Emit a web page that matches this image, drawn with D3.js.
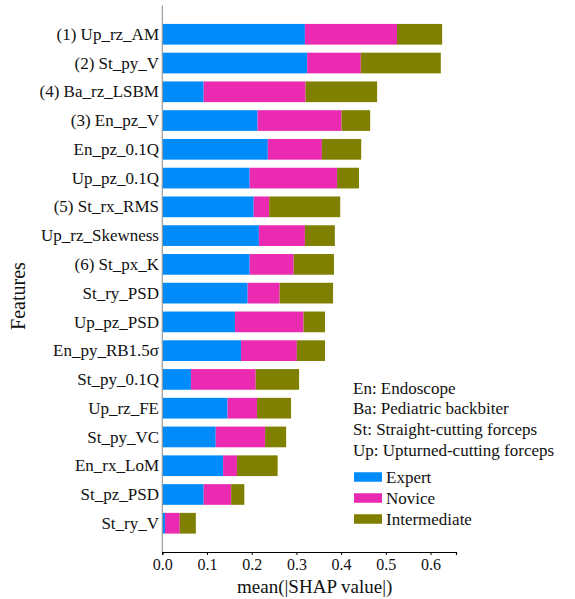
<!DOCTYPE html>
<html><head><meta charset="utf-8">
<script src="https://cdn.jsdelivr.net/npm/d3@7"></script>
<style>body{margin:0;background:#fff}svg{display:block}</style>
</head><body>
<script>
const features = ["(1) Up_rz_AM","(2) St_py_V","(4) Ba_rz_LSBM","(3) En_pz_V","En_pz_0.1Q","Up_pz_0.1Q","(5) St_rx_RMS","Up_rz_Skewness","(6) St_px_K","St_ry_PSD","Up_pz_PSD","En_py_RB1.5σ","St_py_0.1Q","Up_rz_FE","St_py_VC","En_rx_LoM","St_pz_PSD","St_ry_V"];
const expert = [0.319,0.324,0.0925,0.213,0.236,0.1955,0.2045,0.216,0.1955,0.191,0.1625,0.176,0.064,0.146,0.1195,0.136,0.0925,0.006];
const novice = [0.206,0.120,0.228,0.188,0.121,0.1955,0.0345,0.103,0.0985,0.0715,0.1535,0.125,0.145,0.066,0.1105,0.031,0.0615,0.033];
const intermediate = [0.101,0.179,0.160,0.064,0.088,0.049,0.159,0.067,0.090,0.1195,0.048,0.063,0.097,0.076,0.047,0.091,0.0295,0.036];
const seriesNames = ["Expert","Novice","Intermediate"];
const colors = ["#008bfb","#ea2bb2","#808000"];
const xTicks = [0,0.1,0.2,0.3,0.4,0.5,0.6];
const notes = ["En: Endoscope","Ba: Pediatric backbiter","St: Straight-cutting forceps","Up: Upturned-cutting forceps"];

const W=575,H=599;
const font = "'Liberation Serif', 'DejaVu Serif', 'Noto Serif', Tinos, Times, serif";
const svg = d3.select("body").append("svg").attr("width",W).attr("height",H).style("font-family",font);

const x = d3.scaleLinear().domain([0,0.657]).range([162.3,456]);
const y = d3.scaleLinear().domain([-1,features.length]).range([5.5,552]);
const bh = 20.7;

const rows = features.map((f,i)=>({f,i,vals:[expert[i],novice[i],intermediate[i]]}));
const stackData = rows.map(r=>{const o={f:r.f,i:r.i}; seriesNames.forEach((s,k)=>o[s]=r.vals[k]); return o;});
const stacked = d3.stack().keys(seriesNames)(stackData);

svg.append("g").selectAll("g").data(stacked).join("g")
  .attr("fill",(d,k)=>colors[k])
  .selectAll("rect").data(d=>d).join("rect")
  .attr("x",d=>x(d[0])).attr("width",d=>x(d[1])-x(d[0]))
  .attr("y",d=>y(d.data.i)-bh/2).attr("height",bh);

// left spine
svg.append("line").attr("x1",x(0)).attr("x2",x(0)).attr("y1",y(-1)).attr("y2",y(features.length))
  .attr("stroke","#999").attr("stroke-width",1.2);

// y labels
svg.append("g").selectAll("text").data(features).join("text")
  .attr("x",159).attr("y",(d,i)=>y(i)).attr("dy","0.33em").style("font-family",font)
  .attr("text-anchor","end").attr("font-size",17).attr("fill","#111").text(d=>d);

// x axis
const xa = svg.append("g").attr("transform",`translate(0,${y(features.length)})`)
  .call(d3.axisBottom(x).tickValues(xTicks).tickFormat(d3.format(".1f")).tickSize(3).tickPadding(4));
xa.select(".domain").attr("stroke","#000").attr("stroke-width",1.2);
xa.selectAll(".tick line").attr("stroke","#000");
xa.selectAll("text").attr("font-size",16).style("font-family",font).attr("fill","#111");

svg.append("text").attr("x",314.7).attr("y",593).attr("text-anchor","middle").style("font-family",font)
  .attr("font-size",19).attr("fill","#111").text("mean(|SHAP value|)");
svg.append("text").attr("transform","translate(25,296) rotate(-90)").attr("text-anchor","middle").style("font-family",font)
  .attr("font-size",20).attr("fill","#111").text("Features");

// notes
svg.append("g").selectAll("text").data(notes).join("text")
  .attr("x",353).attr("y",(d,i)=>388+i*20.7).attr("dy","0.33em").style("font-family",font)
  .attr("font-size",17).attr("fill","#111").text(d=>d);

// legend
const lg = svg.append("g").selectAll("g").data(seriesNames).join("g")
  .attr("transform",(d,i)=>`translate(354,${477+i*21})`);
lg.append("rect").attr("x",0).attr("y",-4.75).attr("width",28).attr("height",9.5).attr("fill",(d,i)=>colors[i]);
lg.append("text").attr("x",32).attr("y",0).attr("dy","0.33em").style("font-family",font).attr("font-size",17).attr("fill","#111").text(d=>d);
</script>
</body></html>
